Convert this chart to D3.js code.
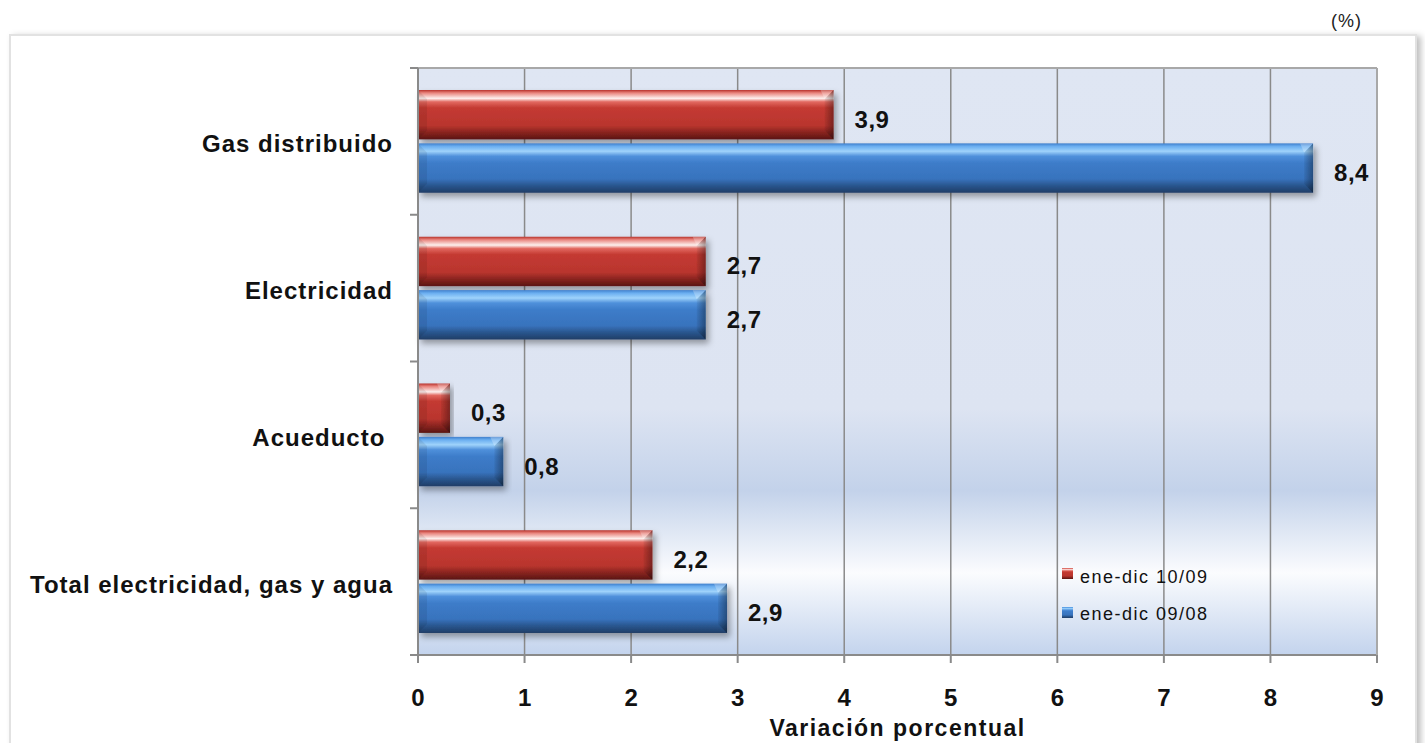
<!DOCTYPE html>
<html><head><meta charset="utf-8">
<script src="https://cdn.jsdelivr.net/npm/d3@7"></script>
<style>body{margin:0;background:#fff;}svg{display:block;font-family:Arial,"Liberation Sans",sans-serif;}</style>
</head><body>
<svg id="c" width="1425" height="743"></svg>
<script>
const categories = ["Gas distribuido","Electricidad","Acueducto ","Total electricidad, gas y agua"];
const series1Name = "ene-dic 10/09";
const series2Name = "ene-dic 09/08";
const series1 = [3.9, 2.7, 0.3, 2.2];
const series2 = [8.4, 2.7, 0.8, 2.9];
const xTicks = [0,1,2,3,4,5,6,7,8,9];
const axisTitle = "Variación porcentual";
const unitLabel = "(%)";

const svg = d3.select("#c");
const defs = svg.append("defs");
const m={l:418,r:1377,t:68,b:655};

// frame shadow
const fs=defs.append("filter").attr("id","fshadow").attr("x","-5%").attr("y","-5%").attr("width","110%").attr("height","110%");
fs.append("feDropShadow").attr("dx",4).attr("dy",2).attr("stdDeviation",3).attr("flood-color","#000").attr("flood-opacity",0.25);
svg.append("rect").attr("x",10).attr("y",35).attr("width",1406).attr("height",740).attr("fill","#fff").attr("stroke","#e2e2e2").attr("stroke-width",2).attr("filter","url(#fshadow)");

svg.append("text").attr("x",1362).attr("y",27).attr("text-anchor","end").attr("font-size",18).attr("letter-spacing",1).attr("fill","#222").text(unitLabel);

// plot bg
const bg=defs.append("linearGradient").attr("id","bg").attr("x1",0).attr("y1",0).attr("x2",0).attr("y2",1);
[[0,"#dfe6f3"],[0.58,"#dde4f2"],[0.72,"#c3d2ea"],[0.86,"#fbfcfe"],[1,"#c3d3ed"]].forEach(s=>bg.append("stop").attr("offset",s[0]).attr("stop-color",s[1]));

const x=d3.scaleLinear().domain([0,9]).range([m.l,m.r]);
const y=d3.scaleBand().domain(categories).range([m.t,m.b]);

svg.append("rect").attr("x",m.l).attr("y",m.t).attr("width",m.r-m.l).attr("height",m.b-m.t).attr("fill","url(#bg)");

// gridlines
svg.append("g").selectAll("line").data(xTicks.slice(1)).join("line")
 .attr("x1",d=>x(d)).attr("x2",d=>x(d)).attr("y1",m.t).attr("y2",m.b)
 .attr("stroke","#8a8a8a").attr("stroke-width",1.5);
svg.append("line").attr("x1",m.l-8).attr("x2",m.r).attr("y1",m.t).attr("y2",m.t).attr("stroke","#a8a8a8").attr("stroke-width",2);

// gradients for bars
function barGrad(id, stops){const g=defs.append("linearGradient").attr("id",id).attr("x1",0).attr("y1",0).attr("x2",0).attr("y2",1);
 stops.forEach(s=>g.append("stop").attr("offset",s[0]).attr("stop-color",s[1]));}
barGrad("gRed",[[0,"#b8332c"],[0.06,"#e9857e"],[0.17,"#fdf0ee"],[0.24,"#e26860"],[0.36,"#c43a32"],[0.72,"#b9352e"],[0.85,"#8c2520"],[1,"#5a1512"]]);
barGrad("gBlue",[[0,"#3f7fcc"],[0.06,"#6aaef0"],[0.16,"#9fd3fb"],[0.26,"#4f90db"],[0.4,"#3d7cc9"],[0.72,"#3873bd"],[0.85,"#2a5790"],[1,"#1f3d66"]]);
const capG=defs.append("linearGradient").attr("id","cap").attr("x1",0).attr("y1",0).attr("x2",1).attr("y2",0);
capG.append("stop").attr("offset",0).attr("stop-color","#000").attr("stop-opacity",0.05);
capG.append("stop").attr("offset",1).attr("stop-color","#000").attr("stop-opacity",0.35);
const bs=defs.append("filter").attr("id","bshadow").attr("x","-5%").attr("y","-20%").attr("width","115%").attr("height","150%");
bs.append("feDropShadow").attr("dx",3).attr("dy",4).attr("stdDeviation",3).attr("flood-color","#000").attr("flood-opacity",0.35);

const bandPad=22, gap=4;
const barH=(y.bandwidth()-2*bandPad-gap)/2;
const seriesDefs=[{vals:series1,grad:"gRed",off:0},{vals:series2,grad:"gBlue",off:1}];
const gb=svg.append("g");
const gl=svg.append("g");
seriesDefs.forEach(s=>{
  categories.forEach((c,i)=>{
    const v=s.vals[i];
    const y0=y(c)+bandPad+s.off*(barH+gap);
    const x0=x(0), x1=x(v);
    const g=gb.append("g").attr("filter","url(#bshadow)");
    g.append("rect").attr("x",x0).attr("y",y0).attr("width",x1-x0).attr("height",barH).attr("fill",`url(#${s.grad})`);
    const bv=Math.min(9,(x1-x0)/3);
    g.append("path").attr("d",`M${x1-bv},${y0+bv} L${x1},${y0} L${x1},${y0+barH} L${x1-bv},${y0+barH-bv} Z`).attr("fill","url(#cap)");
    g.append("path").attr("d",`M${x1-bv},${y0+bv} L${x1},${y0} L${x1-bv-4},${y0} Z`).attr("fill","#fff").attr("opacity",0.25);
    g.append("path").attr("d",`M${x0},${y0} L${x0+bv},${y0+bv} L${x0+bv},${y0+barH-bv} L${x0},${y0+barH} Z`).attr("fill","#000").attr("opacity",0.08);
    gl.append("text").attr("x",x1+21).attr("y",y0+barH/2+13).attr("font-size",24).attr("font-weight","bold").attr("letter-spacing",0.5).attr("fill","#111")
      .text(String(v).replace(".",","));
  });
});

// axes
const ax=svg.append("g");
ax.append("line").attr("x1",m.l).attr("x2",m.l).attr("y1",m.t).attr("y2",m.b).attr("stroke","#8a8a8a").attr("stroke-width",2);
ax.append("line").attr("x1",m.l-8).attr("x2",m.r).attr("y1",m.b).attr("y2",m.b).attr("stroke","#8a8a8a").attr("stroke-width",2);
ax.append("line").attr("x1",m.r).attr("x2",m.r).attr("y1",m.t).attr("y2",m.b).attr("stroke","#a8a8a8").attr("stroke-width",2);
const bounds=categories.map(c=>y(c)).concat([m.b]);
ax.selectAll("line.yt").data(bounds).join("line").attr("class","yt").attr("x1",m.l-8).attr("x2",m.l).attr("y1",d=>d).attr("y2",d=>d).attr("stroke","#8a8a8a").attr("stroke-width",2);
ax.selectAll("line.xt").data(xTicks).join("line").attr("class","xt").attr("x1",d=>x(d)).attr("x2",d=>x(d)).attr("y1",m.b).attr("y2",m.b+8).attr("stroke","#8a8a8a").attr("stroke-width",2);
ax.selectAll("text.xl").data(xTicks).join("text").attr("class","xl").attr("x",d=>x(d)).attr("y",706).attr("text-anchor","middle").attr("font-size",24).attr("font-weight","bold").attr("fill","#111").text(d=>d);
ax.selectAll("text.yl").data(categories).join("text").attr("class","yl").attr("x",393).attr("y",d=>y(d)+y.bandwidth()/2+11).attr("text-anchor","end").attr("font-size",24).attr("font-weight","bold").attr("letter-spacing",1).attr("fill","#111").style("white-space","pre").text(d=>d);
svg.append("text").attr("x",(m.l+m.r)/2).attr("y",736).attr("text-anchor","middle").attr("font-size",23).attr("font-weight","bold").attr("letter-spacing",1.5).attr("fill","#111").text(axisTitle);

// legend
const lg=svg.append("g");
[[series1Name,"gRed"],[series2Name,"gBlue"]].forEach((d,i)=>{
  lg.append("rect").attr("x",1062).attr("y",568+i*39).attr("width",11).attr("height",11).attr("fill",`url(#${d[1]})`);
  lg.append("text").attr("x",1080).attr("y",583+i*37).attr("font-size",18).attr("letter-spacing",1.5).attr("fill","#111").text(d[0]);
});
</script>
</body></html>
